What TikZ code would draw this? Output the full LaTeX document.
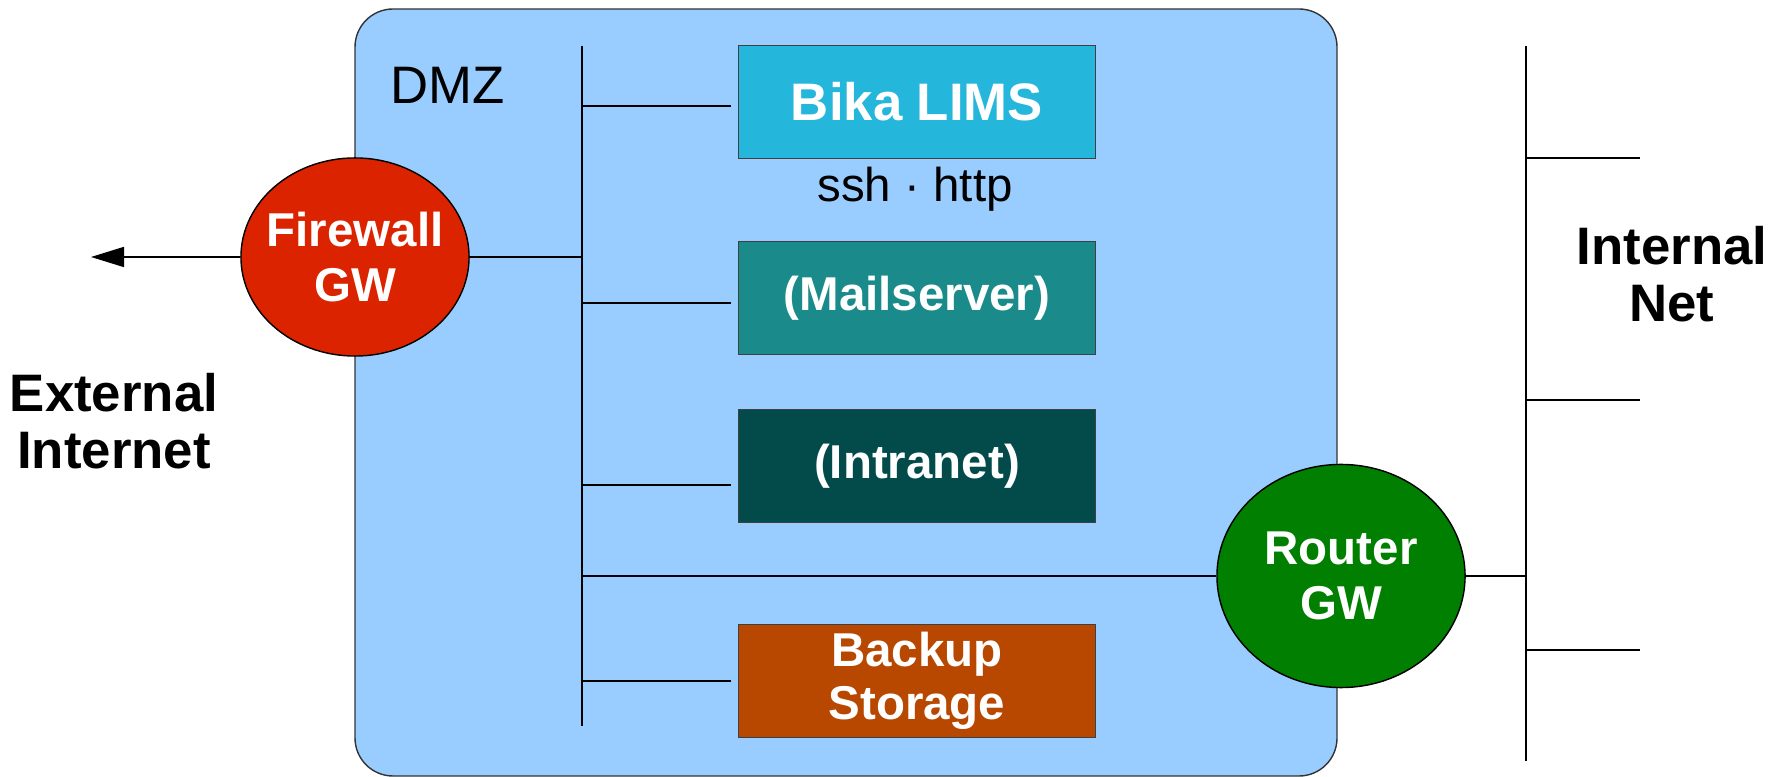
\documentclass[tikz,border=0pt]{standalone}
\usepackage{fontspec}
\setmainfont{Liberation Sans}
\usetikzlibrary{shapes.geometric,arrows.meta}
\definecolor{dmzblue}{HTML}{99CCFF}
\definecolor{bikacyan}{HTML}{25B6DC}
\definecolor{mailteal}{HTML}{1B8A8A}
\definecolor{intrateal}{HTML}{034B4B}
\definecolor{backupbrown}{HTML}{B84700}
\definecolor{fwred}{HTML}{DC2300}
\definecolor{rtgreen}{HTML}{007F00}

\begin{document}
\begin{tikzpicture}[x=0.01cm,y=-0.01cm,
  box/.style={draw=black!75, line width=0.4pt, minimum width=3.57cm, minimum height=1.13cm,
    inner sep=0pt, text=white, align=center, font=\fontsize{13.5}{14.9}\selectfont\bfseries},
  gw/.style={ellipse, draw=black, line width=0.4pt, inner sep=0pt},
  gwtext/.style={text=white, align=center, font=\fontsize{13.5}{15.6}\selectfont\bfseries},
  big/.style={align=center, font=\fontsize{15}{16.4}\selectfont\bfseries},
  wire/.style={line width=0.45pt}]
\useasboundingbox (0,0) rectangle (1786,777);
\filldraw[fill=dmzblue, draw=black!80, line width=0.4pt, rounded corners=0.38cm] (355,9) rectangle (1337,776);
\node[font=\fontsize{15}{17}\selectfont] (dmz) at (448,85) {DMZ};

\coordinate (bt) at (582,46);
\coordinate (bb) at (582,726);
\draw[wire] (bt) -- (bb);

\node[box, fill=bikacyan, font=\fontsize{15}{17}\selectfont\bfseries] (bika) at (917,102) {Bika LIMS};
\node[font=\fontsize{13.5}{15}\selectfont] (proto) at (915,189) {ssh · http};
\node[box, fill=mailteal] (mail) at (917,298) {(Mailserver)};
\node[box, fill=intrateal] (intra) at (917,466) {(Intranet)};
\node[box, fill=backupbrown] (backup) at (917,681) {Backup\\Storage};

\coordinate (s1) at (582,106);
\coordinate (s2) at (582,303);
\coordinate (s3) at (582,485);
\coordinate (s4) at (582,681);
\draw[wire, shorten >=2pt] (s1) -- (s1 -| bika.west);
\draw[wire, shorten >=2pt] (s2) -- (s2 -| mail.west);
\draw[wire, shorten >=2pt] (s3) -- (s3 -| intra.west);
\draw[wire, shorten >=2pt] (s4) -- (s4 -| backup.west);

\node[gw, fill=fwred, minimum width=2.28cm, minimum height=1.98cm] (fw) at (355,257) {};
\node[gwtext] (fwl) at (fw) {Firewall\\GW};
\coordinate (s0) at (582,257);
\coordinate (ext) at (91,257);
\draw[wire] (fw) -- (s0);
\draw[wire, -{Triangle[length=9.4pt,width=5.7pt]}] (fw) -- (ext);
\node[big] (inet) at (114,421) {External\\Internet};

\node[gw, fill=rtgreen, minimum width=2.48cm, minimum height=2.23cm] (rt) at (1341,576) {};
\node[gwtext] (rtl) at (rt) {Router\\GW};
\coordinate (s5) at (582,576);
\draw[wire] (s5) -- (rt);

\coordinate (rtop) at (1526,46);
\coordinate (rbot) at (1526,761);
\coordinate (r0) at (1526,576);
\draw[wire] (rtop) -- (rbot);
\draw[wire] (rt) -- (r0);
\coordinate (r1) at (1526,158);
\coordinate (r2) at (1526,400);
\coordinate (r3) at (1526,650);
\coordinate (q1) at (1640,158);
\coordinate (q2) at (1640,400);
\coordinate (q3) at (1640,650);
\draw[wire] (r1) -- (q1);
\draw[wire] (r2) -- (q2);
\draw[wire] (r3) -- (q3);
\node[big] (inner) at (1672,274) {Internal\\Net};
\end{tikzpicture}
\end{document}
